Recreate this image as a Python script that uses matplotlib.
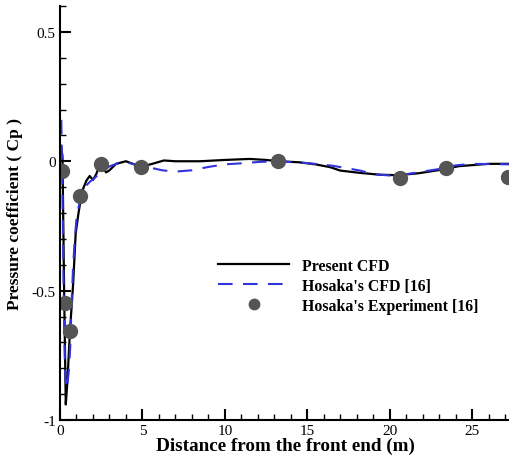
import matplotlib
matplotlib.use("Agg")
import matplotlib.pyplot as plt
from matplotlib.ticker import MultipleLocator, FixedLocator

# Present CFD
cfd_x = [0.05, 0.15, 0.25, 0.35, 0.45, 0.6, 0.8, 0.95, 1.1, 1.25, 1.4, 1.6, 1.8, 2.0,
         2.2, 2.4, 2.55, 2.8, 3.0, 3.4, 4.0, 4.5, 5.0, 5.6, 6.3, 7.0, 8.5, 10.0, 11.5,
         12.5, 13.3, 14.5, 15.5, 16.4, 17.0, 18.2, 19.4, 20.5, 21.8, 23.0, 24.2, 26.0, 27.3]
cfd_y = [0.06, 0.02, -0.5, -0.94, -0.85, -0.66, -0.47, -0.28, -0.21, -0.15, -0.107, -0.075,
         -0.057, -0.072, -0.05, -0.015, -0.02, -0.043, -0.035, -0.01, 0.0, -0.012, -0.02,
         -0.01, 0.003, 0.0, 0.0, 0.005, 0.009, 0.005, 0.0, -0.004, -0.012, -0.023, -0.036,
         -0.045, -0.052, -0.054, -0.046, -0.034, -0.019, -0.01, -0.01]

# Hosaka's CFD [16]
hos_x = [0.08, 0.15, 0.22, 0.3, 0.38, 0.45, 0.55, 0.62, 0.7, 0.8, 0.9, 1.0, 1.15, 1.3, 1.5,
         1.8, 2.1, 2.5, 3.0, 3.5, 4.0, 4.5, 5.0, 5.5, 6.2, 7.0, 8.0, 9.0, 10.0, 11.0, 12.0,
         13.0, 14.0, 15.0, 16.5, 17.5, 18.2, 19.0, 20.0, 21.0, 21.8, 23.0, 24.0, 25.0, 27.3]
hos_y = [0.16, -0.1, -0.5, -0.8, -0.88, -0.86, -0.8, -0.72, -0.55, -0.4, -0.3, -0.22, -0.17,
         -0.14, -0.1, -0.08, -0.065, -0.04, -0.02, -0.008, -0.003, -0.012, -0.022, -0.025,
         -0.035, -0.04, -0.035, -0.022, -0.012, -0.008, -0.003, 0.0, -0.003, -0.007, -0.017,
         -0.028, -0.036, -0.05, -0.055, -0.05, -0.042, -0.03, -0.016, -0.01, -0.012]

# Hosaka's Experiment [16]
exp_x = [0.12, 0.3, 0.6, 1.2, 2.5, 4.9, 13.2, 20.6, 23.4, 27.2]
exp_y = [-0.037, -0.547, -0.655, -0.133, -0.01, -0.021, 0.0, -0.066, -0.027, -0.059]

plt.rcParams["font.family"] = ["Liberation Serif", "DejaVu Serif"]

fig = plt.figure(figsize=(5.1, 4.64), dpi=100)
ax = fig.add_axes([60 / 510, 43 / 464, 450 / 510, 414 / 464])

ax.plot(cfd_x, cfd_y, color="black", lw=1.6, label="Present CFD")
ax.plot(hos_x, hos_y, color="#3333dd", lw=1.5, dashes=(7, 5), label="Hosaka's CFD [16]")
ax.plot(exp_x, exp_y, "o", color="#555555", ms=10, label="Hosaka's Experiment [16]")

ax.set_xlim(0, 27.3)
ax.set_ylim(-1, 0.6)
ax.xaxis.set_major_locator(FixedLocator([0, 5, 10, 15, 20, 25]))
ax.xaxis.set_minor_locator(MultipleLocator(1))
ax.yaxis.set_major_locator(FixedLocator([-1, -0.5, 0, 0.5]))
ax.yaxis.set_minor_locator(MultipleLocator(0.1))
ax.set_yticklabels(["-1", "-0.5", "0", "0.5"])

for s in ["top", "right"]:
    ax.spines[s].set_visible(False)
for s in ["left", "bottom"]:
    ax.spines[s].set_linewidth(1.5)

ax.tick_params(which="major", direction="in", length=8, width=1.5, labelsize=11, pad=3)
ax.tick_params(which="minor", direction="in", length=4, width=1.0)

ax.set_xlabel("Distance from the front end (m)", fontsize=13.8, fontweight="bold", labelpad=0)
ax.set_ylabel("Pressure coefficient ( Cp )", fontsize=12.5, fontweight="bold", labelpad=6)

ax.legend(loc="upper left", bbox_to_anchor=(210 / 510, 1 - 251 / 464),
          bbox_transform=fig.transFigure, frameon=False, borderpad=0,
          handlelength=4.5, handletextpad=0.8, labelspacing=0.25, markerscale=0.75,
          prop={"weight": "bold", "size": 11.4})

fig.savefig("out.png", dpi=100)
